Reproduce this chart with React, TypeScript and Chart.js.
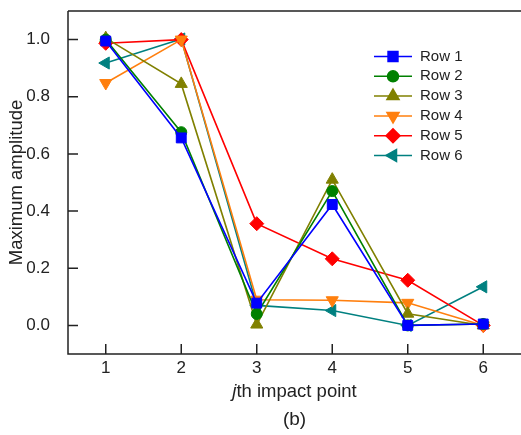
import React, { useEffect, useRef } from "react";
import { Chart, registerables } from "chart.js";
import { drawPoint } from "chart.js/helpers";

Chart.register(...registerables);

const impactPoints = [1, 2, 3, 4, 5, 6];
const row1 = [0.995, 0.656, 0.078, 0.423, 0.0, 0.005];
const row2 = [1.0, 0.676, 0.04, 0.47, 0.0, 0.005];
const row3 = [1.005, 0.845, 0.003, 0.51, 0.041, 0.0];
const row4 = [0.848, 1.0, 0.09, 0.088, 0.079, 0.0];
const row5 = [0.987, 1.0, 0.356, 0.233, 0.158, 0.0];
const row6 = [0.918, 1.002, 0.07, 0.052, 0.0, 0.135];

const seriesNames = ["Row 1", "Row 2", "Row 3", "Row 4", "Row 5", "Row 6"];
const seriesValues = [row1, row2, row3, row4, row5, row6];
const seriesColors = ["#0000ff", "#008000", "#808000", "#ff7f0e", "#ff0000", "#008080"];
const seriesStyles = ["rect", "circle", "triangle", "triangle", "rectRot", "triangle"];
const seriesRotations = [0, 0, 0, 180, 0, 270];
const seriesRadii = [7, 5.5, 7, 7, 7, 7];

const yTicks = [0, 0.2, 0.4, 0.6, 0.8, 1.0];
const yTickLabels = ["0.0", "0.2", "0.4", "0.6", "0.8", "1.0"];
const xTicks = [1, 2, 3, 4, 5, 6];
const xTickLabels = ["1", "2", "3", "4", "5", "6"];

const FONT = '"Liberation Sans", Arial, sans-serif';
const INK = "#222222";

const decorPlugin = {
  id: "decor",
  afterDraw(chart: any) {
    const { ctx, chartArea: a, scales } = chart;
    const x = scales.x;
    const y = scales.y;
    ctx.save();
    // frame
    ctx.strokeStyle = INK;
    ctx.lineWidth = 1.5;
    ctx.beginPath();
    ctx.moveTo(a.left, a.top);
    ctx.lineTo(a.right + 2, a.top);
    ctx.moveTo(a.left, a.top);
    ctx.lineTo(a.left, a.bottom);
    ctx.lineTo(a.right + 2, a.bottom);
    ctx.stroke();
    // ticks
    ctx.beginPath();
    yTicks.forEach((v) => {
      const py = y.getPixelForValue(v);
      ctx.moveTo(a.left, py);
      ctx.lineTo(a.left + 10, py);
    });
    xTicks.forEach((v) => {
      const px = x.getPixelForValue(v);
      ctx.moveTo(px, a.bottom);
      ctx.lineTo(px, a.bottom - 10);
    });
    ctx.stroke();
    // tick labels
    ctx.fillStyle = INK;
    ctx.font = `17px ${FONT}`;
    ctx.textAlign = "right";
    ctx.textBaseline = "middle";
    yTicks.forEach((v, i) => {
      ctx.fillText(yTickLabels[i], a.left - 18, y.getPixelForValue(v));
    });
    ctx.textAlign = "center";
    ctx.textBaseline = "top";
    xTicks.forEach((v, i) => {
      ctx.fillText(xTickLabels[i], x.getPixelForValue(v), a.bottom + 6);
    });
    // x title with italic j
    const cx = (a.left + a.right) / 2;
    ctx.textBaseline = "middle";
    ctx.textAlign = "left";
    ctx.font = `italic 18.5px ${FONT}`;
    const wj = ctx.measureText("j").width;
    ctx.font = `18.5px ${FONT}`;
    const wr = ctx.measureText("th impact point").width;
    const sx = cx - (wj + wr) / 2;
    ctx.font = `italic 18.5px ${FONT}`;
    ctx.fillText("j", sx, 392);
    ctx.font = `18.5px ${FONT}`;
    ctx.fillText("th impact point", sx + wj, 392);
    // (b)
    ctx.textAlign = "center";
    ctx.font = `19px ${FONT}`;
    ctx.fillText("(b)", cx, 420);
    // y title
    ctx.save();
    ctx.translate(17, (a.top + a.bottom) / 2);
    ctx.rotate(-Math.PI / 2);
    ctx.font = `18.5px ${FONT}`;
    ctx.textAlign = "center";
    ctx.textBaseline = "middle";
    ctx.fillText("Maximum amplitude", 0, 0);
    ctx.restore();
    // legend
    seriesNames.forEach((name, i) => {
      const ly = 56.5 + i * 19.8;
      ctx.strokeStyle = seriesColors[i];
      ctx.fillStyle = seriesColors[i];
      ctx.lineWidth = 1.5;
      ctx.beginPath();
      ctx.moveTo(374, ly);
      ctx.lineTo(412, ly);
      ctx.stroke();
      drawPoint(
        ctx,
        {
          pointStyle: seriesStyles[i],
          rotation: seriesRotations[i],
          radius: seriesRadii[i],
          borderWidth: 1,
        } as any,
        393,
        ly
      );
      ctx.fillStyle = INK;
      ctx.font = `15px ${FONT}`;
      ctx.textAlign = "left";
      ctx.textBaseline = "middle";
      ctx.fillText(name, 420, ly);
    });
    ctx.restore();
  },
};

export default function App() {
  const canvasRef = useRef<HTMLCanvasElement | null>(null);

  useEffect(() => {
    if (!canvasRef.current) return;
    const datasets = seriesNames.map((name, i) => ({
      label: name,
      data: impactPoints.map((p, j) => ({ x: p, y: seriesValues[i][j] })),
      borderColor: seriesColors[i],
      backgroundColor: seriesColors[i],
      borderWidth: 1.6,
      pointStyle: seriesStyles[i] as any,
      pointRotation: seriesRotations[i],
      pointRadius: seriesRadii[i],
      pointBorderWidth: 1,
      pointBackgroundColor: seriesColors[i],
      pointBorderColor: seriesColors[i],
      tension: 0,
      clip: false as any,
    }));
    const chart = new Chart(canvasRef.current, {
      type: "line",
      data: { datasets },
      options: {
        animation: false,
        responsive: false,
        maintainAspectRatio: false,
        devicePixelRatio: 1,
        layout: { autoPadding: false, padding: { left: 68, right: 0, top: 11, bottom: 81 } },
        plugins: {
          legend: { display: false },
          tooltip: { enabled: false },
        },
        scales: {
          x: { type: "linear", min: 0.5, max: 6.5, display: false },
          y: { type: "linear", min: -0.1, max: 1.1, display: false },
        },
      },
      plugins: [decorPlugin],
    });
    return () => chart.destroy();
  }, []);

  return (
    <div style={{ position: "fixed", left: 0, top: 0, width: 521, height: 435, background: "#fff" }}>
      <canvas ref={canvasRef} width={521} height={435} style={{ display: "block" }} />
    </div>
  );
}
